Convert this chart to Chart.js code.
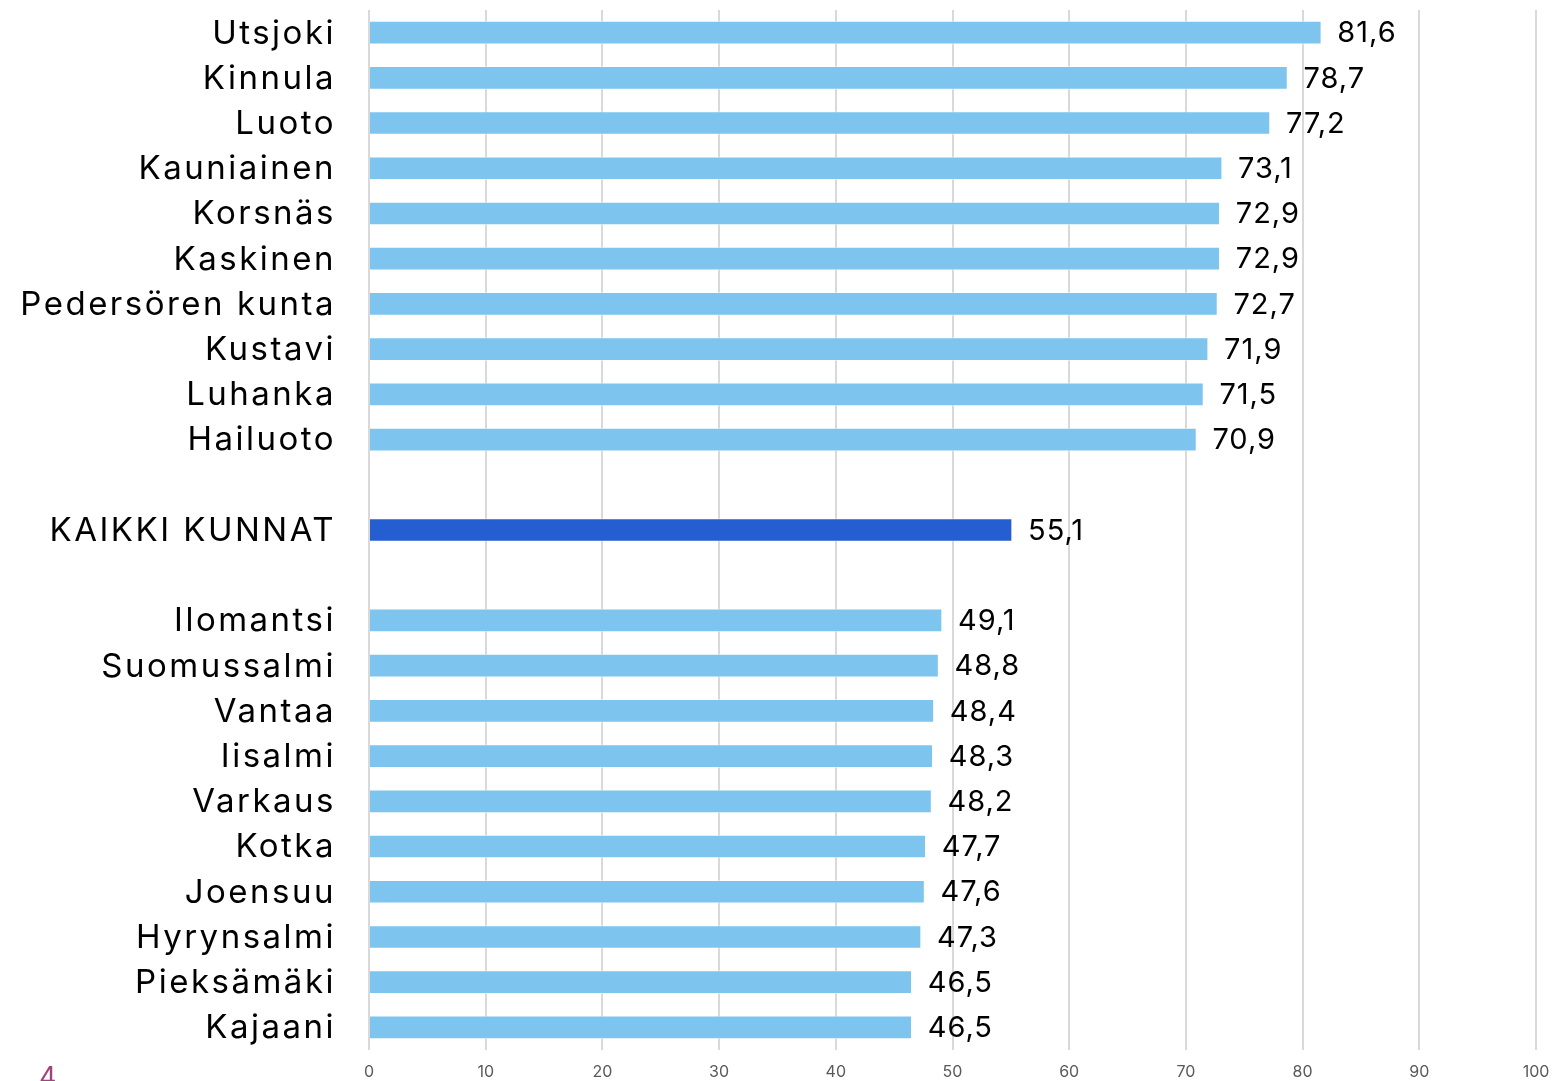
<!DOCTYPE html>
<html>
<head>
<meta charset="utf-8">
<script src="https://cdn.jsdelivr.net/npm/chart.js@4"></script>
<style>
  body { margin: 0; background: #fff; }
  #wrap { position: relative; width: 1552px; height: 1081px; }
  #pageNo { position: absolute; left: 39px; top: 1060px; font: 27px Inter, sans-serif; color: #a0457a; }
</style>
</head>
<body>
<div id="wrap">
  <canvas id="myChart" width="1552" height="1081"></canvas>
  <div id="pageNo">4</div>
</div>
<script>
// municipalities, top ten / all / bottom ten (blank rows as spacers)
var labels = ['Utsjoki', 'Kinnula', 'Luoto', 'Kauniainen', 'Korsnäs', 'Kaskinen', 'Pedersören kunta', 'Kustavi', 'Luhanka', 'Hailuoto',
  '', 'KAIKKI KUNNAT', '',
  'Ilomantsi', 'Suomussalmi', 'Vantaa', 'Iisalmi', 'Varkaus', 'Kotka', 'Joensuu', 'Hyrynsalmi', 'Pieksämäki', 'Kajaani'];
var values = [81.6, 78.7, 77.2, 73.1, 72.9, 72.9, 72.7, 71.9, 71.5, 70.9,
  null, 55.1, null,
  49.1, 48.8, 48.4, 48.3, 48.2, 47.7, 47.6, 47.3, 46.5, 46.5];
var xTicks = [0, 10, 20, 30, 40, 50, 60, 70, 80, 90, 100];

var colors = labels.map(function(l) { return l === 'KAIKKI KUNNAT' ? 'rgb(37,94,208)' : 'rgb(125,197,238)'; });

// category names and bar values, drawn at the positions the scales give
var textLabels = {
  id: 'textLabels',
  afterDatasetsDraw: function(chart) {
    var ctx = chart.ctx;
    var meta = chart.getDatasetMeta(0);
    var yScale = chart.scales.y;
    ctx.save();
    ctx.fillStyle = '#000';
    ctx.textBaseline = 'middle';

    ctx.font = '33px Inter, sans-serif';
    ctx.letterSpacing = '2.5px';
    ctx.textAlign = 'right';
    labels.forEach(function(l, i) {
      if (!l) return;
      ctx.fillText(l, chart.chartArea.left - 33, yScale.getPixelForValue(i) + 1);
    });

    ctx.font = '29px Inter, sans-serif';
    ctx.letterSpacing = '1px';
    ctx.textAlign = 'left';
    meta.data.forEach(function(bar, i) {
      if (values[i] === null) return;
      ctx.fillText(values[i].toFixed(1).replace('.', ','), bar.x + 16, bar.y + 1);
    });
    ctx.restore();
  }
};

var ctx = document.getElementById('myChart').getContext('2d');
var myChart = new Chart(ctx, {
  type: 'bar',
  data: {
    labels: labels,
    datasets: [{
      data: values,
      backgroundColor: colors,
      borderColor: 'rgba(255,255,255,0.5)',
      borderWidth: 1,
      barThickness: 23
    }]
  },
  options: {
    indexAxis: 'y',
    responsive: false,
    animation: false,
    layout: { padding: { top: 10, right: 16, bottom: 0, left: 0 } },
    plugins: { legend: { display: false }, tooltip: { enabled: false } },
    scales: {
      x: {
        min: 0,
        max: 100,
        afterBuildTicks: function(axis) { axis.ticks = xTicks.map(function(v) { return { value: v }; }); },
        afterFit: function(axis) { axis.height = 31; axis.paddingLeft = 0; axis.paddingRight = 0; },
        grid: { color: '#d9d9d9', lineWidth: 2, drawTicks: false },
        border: { display: false },
        ticks: { color: '#595959', font: { family: 'Inter', size: 16 }, padding: 13 }
      },
      y: {
        grid: { display: false },
        border: { display: false },
        ticks: { display: false },
        afterFit: function(axis) { axis.width = 369; axis.paddingTop = 0; axis.paddingBottom = 0; }
      }
    }
  },
  plugins: [textLabels]
});
</script>
</body>
</html>
